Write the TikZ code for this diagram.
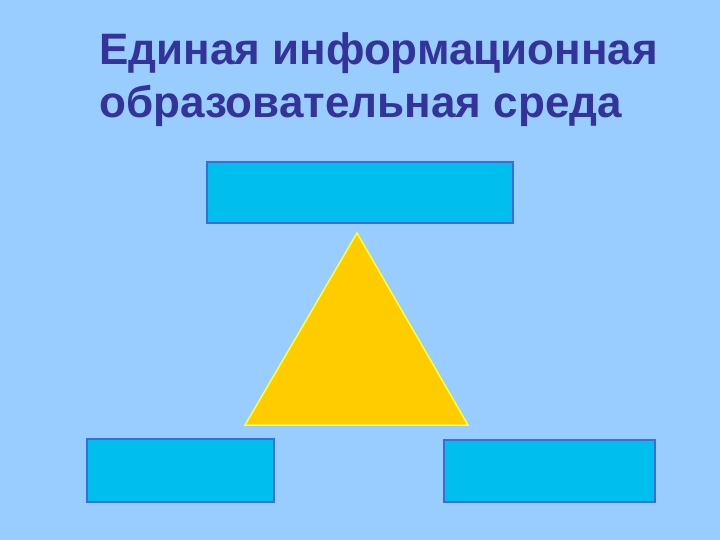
\documentclass[tikz,border=0pt]{standalone}
\usepackage{fontspec}
\setmainfont{Liberation Sans}
\definecolor{bg}{HTML}{99CCFF}
\definecolor{titlec}{HTML}{333399}
\definecolor{boxfill}{HTML}{00BFEF}
\definecolor{boxline}{HTML}{3D6BDB}
\definecolor{trifill}{HTML}{FFCC00}
\definecolor{triline}{HTML}{FFFF33}
\tikzset{
  boxstyle/.style={fill=boxfill, draw=boxline, line width=2pt},
  titletext/.style={text=titlec, font=\fontsize{44}{50}\selectfont\bfseries, inner sep=0pt, anchor=base west}
}
\begin{document}
\begin{tikzpicture}[x=1pt,y=-1pt]
\fill[bg] (0,0) rectangle (720,540);
\useasboundingbox (0,0) rectangle (720,540);
\node[titletext] (t1) at (99,65) {Единая информационная};
\node[titletext] (t2) at (99,118) {образовательная среда};
\draw[boxstyle] (207,162) rectangle (513,223);
\draw[boxstyle] (87,439) rectangle (274,502);
\draw[boxstyle] (444,440) rectangle (655,502);
\draw[fill=trifill, draw=triline, line width=1.5pt, line join=miter] (357,233) -- (468,425) -- (245,425) -- cycle;
\end{tikzpicture}
\end{document}
